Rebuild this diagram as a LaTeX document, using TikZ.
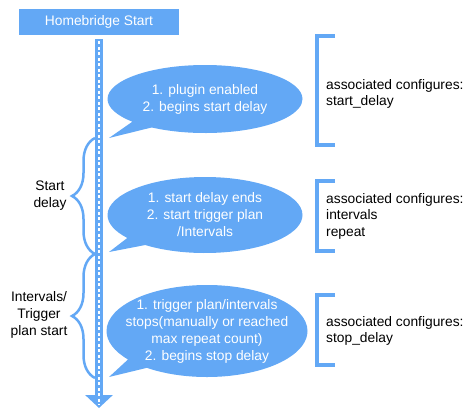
\documentclass[tikz,border=0pt]{standalone}
\usepackage{fontspec}
\setmainfont{Liberation Sans}
\usepackage{tikz}
\usetikzlibrary{shapes.callouts, arrows.meta, decorations.pathreplacing}
\definecolor{hbblue}{RGB}{99,168,245}

\begin{document}
\begin{tikzpicture}[x=1pt, y=-1pt,
    txt/.style={font=\fontsize{13.8}{17}\selectfont},
    bubble/.style={ellipse callout, fill=hbblue, draw=none, text=white, align=center, inner sep=-30pt, txt},
    bracebar/.style={draw=hbblue, line width=2.5pt, decorate, decoration={brace, amplitude=23pt}},
    cfgbracket/.style={draw=hbblue, line width=4pt, line join=miter},
    cfgtext/.style={anchor=west, align=left, inner sep=0pt, font=\fontsize{13.8}{16.5}\selectfont}]
    \useasboundingbox (0,0) rectangle (476,418);

    % Inizio
    \node[fill=hbblue, text=white, minimum width=160pt, minimum height=26pt, inner sep=0pt, txt] (start) at (99,22) {Homebridge Start};

    % Asse del tempo
    \coordinate (end) at (99,408);
    \draw[hbblue, line width=8pt, -{Triangle[width=27pt, length=13pt]}] ([yshift=-4pt]start.south) -- (end);
    \draw[white, line width=1.6pt, dash pattern=on 3pt off 2.5pt] ([yshift=-6pt]start.south) -- ([yshift=3pt]end);

    % Fumetti
    \coordinate (tip1) at (109,138);
    \coordinate (tip2) at (109,252);
    \coordinate (tip3) at (109,377);
    \node[bubble, minimum width=195pt, minimum height=68pt, callout absolute pointer={(tip1)}] (plugin) at (205,99) {1. plugin enabled\\2. begins start delay};
    \node[bubble, minimum width=195pt, minimum height=76pt, callout absolute pointer={(tip2)}] (trigger) at (205,215) {1. start delay ends\\2. start trigger plan\\/Intervals};
    \node[bubble, minimum width=201pt, minimum height=92pt, callout absolute pointer={(tip3)}] (stop) at (207,331) {1. trigger plan/intervals\\stops(manually or reached\\max repeat count)\\2. begins stop delay};

    % Graffe
    \draw[bracebar] (95,254) -- (95,138);
    \node[txt, align=center] (startdelay) at (50,196) {Start\\delay};
    \draw[bracebar] (95,378) -- (95,254);
    \node[txt, align=center] (planstart) at (39,315) {Intervals/\\Trigger\\plan start};

    % Configurazioni
    \draw[cfgbracket] (335,36) -- (317,36) -- (317,145) -- (335,145);
    \node[cfgtext] (cfgstart) at (326,94) {associated configures:\\start\_delay};
    \draw[cfgbracket] (335,181) -- (317,181) -- (317,251) -- (335,251);
    \node[cfgtext] (cfgplan) at (326,216) {associated configures:\\intervals\\repeat};
    \draw[cfgbracket] (335,295) -- (317,295) -- (317,365) -- (335,365);
    \node[cfgtext] (cfgstop) at (326,331) {associated configures:\\stop\_delay};
\end{tikzpicture}
\end{document}
